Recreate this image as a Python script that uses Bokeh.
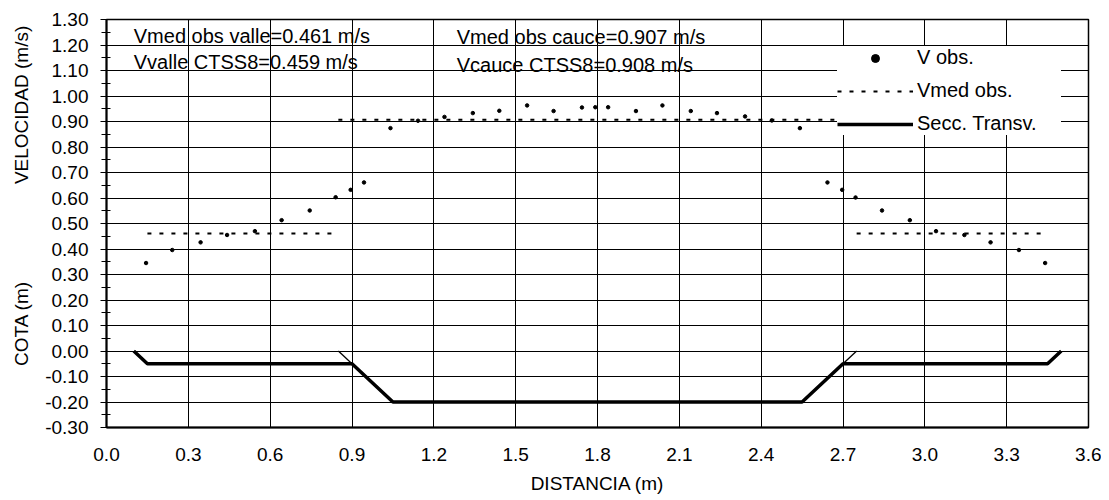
import math
from bokeh.plotting import figure
from bokeh.layouts import row
from bokeh.core.properties import value
from bokeh.models import FixedTicker, Label, Range1d, Legend, LegendItem
from bokeh.embed import file_html
from bokeh.resources import INLINE

# ---------------- data ----------------
v_x = [0.145, 0.241, 0.345, 0.442, 0.544, 0.642, 0.745, 0.840, 0.895, 0.944,
       1.041, 1.142, 1.239, 1.343, 1.440, 1.542, 1.639, 1.743, 1.792, 1.839,
       1.941, 2.038, 2.142, 2.238, 2.341, 2.439, 2.542,
       2.643, 2.697, 2.746, 2.843, 2.945, 3.041, 3.145, 3.241, 3.345, 3.441]
v_y = [0.345, 0.396, 0.426, 0.455, 0.470, 0.513, 0.551, 0.603, 0.632, 0.661,
       0.874, 0.903, 0.918, 0.933, 0.942, 0.963, 0.941, 0.955, 0.956, 0.956,
       0.941, 0.963, 0.941, 0.933, 0.920, 0.904, 0.874,
       0.661, 0.632, 0.602, 0.551, 0.513, 0.470, 0.455, 0.426, 0.396, 0.345]

vmed_x0 = [0.15, 0.85, 2.75]
vmed_x1 = [0.85, 2.75, 3.45]
vmed_y = [0.461, 0.907, 0.461]

sec_x = [0.10, 0.15, 0.90, 1.05, 2.55, 2.70, 3.45, 3.50]
sec_y = [0.00, -0.05, -0.05, -0.20, -0.20, -0.05, -0.05, 0.00]

bank_xs = [[0.85, 0.90], [2.70, 2.75]]
bank_ys = [[0.00, -0.05], [-0.05, 0.00]]

annot_valle = [0.461, 0.459]
annot_cauce = [0.907, 0.908]

x_ticks = [0.0, 0.3, 0.6, 0.9, 1.2, 1.5, 1.8, 2.1, 2.4, 2.7, 3.0, 3.3, 3.6]
x_tick_labels = ["0.0", "0.3", "0.6", "0.9", "1.2", "1.5", "1.8", "2.1", "2.4", "2.7", "3.0", "3.3", "3.6"]
y_ticks = [-0.30, -0.20, -0.10, 0.00, 0.10, 0.20, 0.30, 0.40, 0.50, 0.60, 0.70,
           0.80, 0.90, 1.00, 1.10, 1.20, 1.30]
y_tick_labels = ["-0.30", "-0.20", "-0.10", "0.00", "0.10", "0.20", "0.30", "0.40", "0.50",
                 "0.60", "0.70", "0.80", "0.90", "1.00", "1.10", "1.20", "1.30"]
y_titles = ["VELOCIDAD (m/s)", "COTA (m)"]

FONT = "Liberation Sans"
Y_RANGE = (-0.30, 1.30)
FRAME_H = 408
TOP = 19

# ---------------- left strip with the two y titles (frame aligned with main plot) ----------------
lf = figure(width=40, height=500, x_range=Range1d(0, 40), y_range=Range1d(*Y_RANGE),
            title=None, output_backend="svg", toolbar_location=None,
            min_border_left=0, min_border_right=0, min_border_top=TOP, min_border_bottom=73,
            x_axis_type=None, y_axis_type=None)
lf.outline_line_color = None
lf.grid.visible = False
lf.text(x=[21], y=[0.965], text=[y_titles[0]], angle=math.pi / 2,
        text_align="center", text_baseline="middle", text_color="black",
        text_font=value(FONT), text_font_size="19px")
lf.text(x=[21], y=[0.108], text=[y_titles[1]], angle=math.pi / 2,
        text_align="center", text_baseline="middle", text_color="black",
        text_font=value(FONT), text_font_size="19px")

# ---------------- main figure ----------------
p = figure(frame_width=982, frame_height=FRAME_H,
           x_range=Range1d(0, 3.6), y_range=Range1d(*Y_RANGE),
           title=None, output_backend="svg", toolbar_location=None,
           min_border_left=66, min_border_right=13, min_border_top=TOP, min_border_bottom=73)
p.background_fill_color = "white"
p.border_fill_color = "white"
p.outline_line_color = "black"
p.outline_line_width = 1.5

p.xaxis.ticker = FixedTicker(ticks=x_ticks)
p.xaxis.major_label_overrides = {t: s for t, s in zip(x_ticks, x_tick_labels)}
y_minor = [(a + b) / 2 for a, b in zip(y_ticks[:-1], y_ticks[1:])]
p.yaxis.ticker = FixedTicker(ticks=y_ticks, minor_ticks=y_minor)
p.yaxis.major_label_overrides = {t: s for t, s in zip(y_ticks, y_tick_labels)}

for ax in (p.xaxis, p.yaxis):
    ax.axis_line_color = "black"
    ax.axis_line_width = 2
    ax.major_label_text_font = FONT
    ax.major_label_text_font_size = "19px"
    ax.major_label_text_color = "black"
    ax.axis_label_text_font = FONT
    ax.axis_label_text_font_size = "19px"
    ax.axis_label_text_font_style = "normal"
    ax.axis_label_text_color = "black"

p.xaxis.major_tick_out = 0
p.xaxis.major_tick_in = 0
p.xaxis.minor_tick_out = 0
p.xaxis.minor_tick_in = 0
p.xaxis.major_label_standoff = 20
p.xaxis.axis_label = "DISTANCIA (m)"
p.xaxis.axis_label_standoff = 9

p.yaxis.major_tick_out = 6
p.yaxis.major_tick_in = 0
p.yaxis.minor_tick_out = 5
p.yaxis.minor_tick_in = 4
p.yaxis.major_tick_line_color = "black"
p.yaxis.minor_tick_line_color = "black"
p.yaxis.major_label_standoff = 12

p.xgrid.grid_line_color = "black"
p.ygrid.grid_line_color = "black"
p.xgrid.grid_line_width = 1
p.ygrid.grid_line_width = 1

# ---------------- glyphs ----------------
r_sec = p.line(sec_x, sec_y, line_color="black", line_width=3.5)
p.multi_line(bank_xs, bank_ys, line_color="black", line_width=1.3)
r_vmed = p.segment(x0=vmed_x0, y0=vmed_y, x1=vmed_x1, y1=vmed_y,
                   line_color="black", line_width=2, line_dash="4 8")
r_v = p.scatter(v_x, v_y, marker="circle", size=3.5, fill_color="black", line_color="black")

# ---------------- texts ----------------
txt = dict(text_font=FONT, text_font_size="20px", text_color="black", text_baseline="middle")
p.add_layout(Label(x=0.10, y=1.235, text=f"Vmed obs valle={annot_valle[0]:.3f} m/s", **txt))
p.add_layout(Label(x=0.10, y=1.133, text=f"Vvalle CTSS8={annot_valle[1]:.3f} m/s", **txt))
p.add_layout(Label(x=1.284, y=1.232, text=f"Vmed obs cauce={annot_cauce[0]:.3f} m/s", **txt))
p.add_layout(Label(x=1.284, y=1.123, text=f"Vcauce CTSS8={annot_cauce[1]:.3f} m/s", **txt))

# ---------------- legend ----------------
legend = Legend(items=[LegendItem(label="V obs.", renderers=[r_v]),
                       LegendItem(label="Vmed obs.", renderers=[r_vmed]),
                       LegendItem(label="Secc. Transv.", renderers=[r_sec])],
                location="top_right", margin=27, padding=0, spacing=10,
                glyph_width=76, glyph_height=20, label_height=20, label_width=144,
                label_standoff=4, border_line_color=None,
                background_fill_color="white", background_fill_alpha=1.0,
                label_text_font=FONT, label_text_font_size="20px", label_text_color="black")
p.add_layout(legend)

layout = row(lf, p)
open("out.html", "w").write(file_html(layout, INLINE))
